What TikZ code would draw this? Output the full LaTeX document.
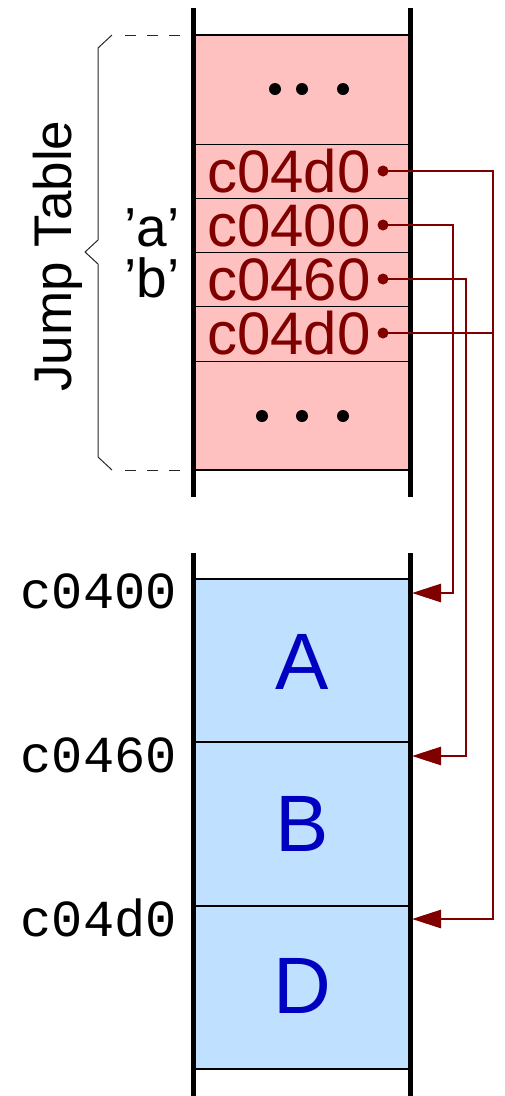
\documentclass[tikz,border=0pt]{standalone}
\usepackage{fontspec}
\setmainfont{Liberation Sans}
\newfontfamily\monof{Liberation Mono}
\usetikzlibrary{arrows.meta}
\definecolor{jred}{HTML}{800000}
\definecolor{pinkf}{HTML}{FFC0C0}
\definecolor{bluef}{HTML}{C0E0FF}
\definecolor{jblue}{HTML}{0000C0}
\begin{document}
\begin{tikzpicture}[x=1pt,y=-1pt,
  wall/.style={line width=5pt},
  sepline/.style={line width=2.5pt},
  thinsep/.style={line width=1pt},
  ptr/.style={draw=jred,line width=2.7pt},
  ptrarrow/.style={ptr,-{Triangle[length=29pt,width=18pt]}},
  val/.style={text=jred,font=\fontsize{60}{60}\selectfont,anchor=west,inner sep=0pt,text height=43pt,text depth=0pt},
  addr/.style={font=\monof\fontsize{52}{52}\selectfont,anchor=east,inner sep=0pt},
  blk/.style={text=jblue,font=\fontsize{80}{80}\selectfont,inner sep=0pt},
  chr/.style={font=\fontsize{55}{55}\selectfont,anchor=base,inner sep=0pt,text height=40pt,text depth=0pt},
  braceline/.style={line width=1pt,draw=black!85},
  dashline/.style={line width=1pt,draw=black!85,dash pattern=on 11pt off 11pt}]
\useasboundingbox (0,0) rectangle (504,1096);

% ---------- jump table ----------
\fill[pinkf] (193,35) rectangle (410,470);
\draw[sepline] (193,35) -- (410,35);
\draw[sepline] (193,470) -- (410,470);
\foreach \y in {144,198,252,306,361} \draw[thinsep] (193,\y) -- (410,\y);
\draw[wall] (193,8) -- (193,497);
\draw[wall] (410,8) -- (410,497);

\foreach \x in {275,302,343} \fill (\x,89) circle (6);
\foreach \x in {262,302,343} \fill (\x,416) circle (6);

\node[val] (v1) at (207,171) {c04d0};
\node[val] (v2) at (207,225) {c0400};
\node[val] (v3) at (207,279) {c0460};
\node[val] (v4) at (207,333) {c04d0};

\foreach \i/\y in {1/171,2/225,3/279,4/333} {
  \fill[jred] (383,\y) circle (5.5);
  \coordinate (p\i) at (383,\y);
}

% brace and dashes
\draw[braceline] (112,35) -- (98,48) -- (98,240) -- (85,252) -- (98,264) -- (98,457) -- (112,470);
\draw[dashline] (125,35) -- (190,35);
\draw[dashline] (125,470) -- (190,470);

\node[rotate=90,font=\fontsize{53}{53}\selectfont,inner sep=0pt] (jt) at (58,256) {Jump Table};
\node[chr] (ca) at (152,246) {'a'};
\node[chr] (cb) at (152,297) {'b'};

% ---------- code blocks ----------
\fill[bluef] (193,579) rectangle (410,1069);
\foreach \y in {579,742,906,1069} \draw[sepline] (193,\y) -- (410,\y);
\draw[wall] (193,553) -- (193,1096);
\draw[wall] (410,553) -- (410,1096);

\node[blk] (A) at (302,662) {A};
\node[blk] (B) at (302,824) {B};
\node[blk] (D) at (302,986) {D};

\node[addr] (la) at (177,591) {c0400};
\node[addr] (lb) at (177,755) {c0460};
\node[addr] (ld) at (177,918) {c04d0};

\coordinate (tA) at (412,593);
\coordinate (tB) at (412,756);
\coordinate (tD) at (412,919);

% ---------- pointers ----------
\draw[ptrarrow] (p1) -- (493,171) -- (493,919) -- (tD);
\draw[ptrarrow] (p2) -- (453,225) -- (453,593) -- (tA);
\draw[ptrarrow] (p3) -- (466,279) -- (466,756) -- (tB);
\draw[ptr] (p4) -- (493,333);
\end{tikzpicture}
\end{document}
